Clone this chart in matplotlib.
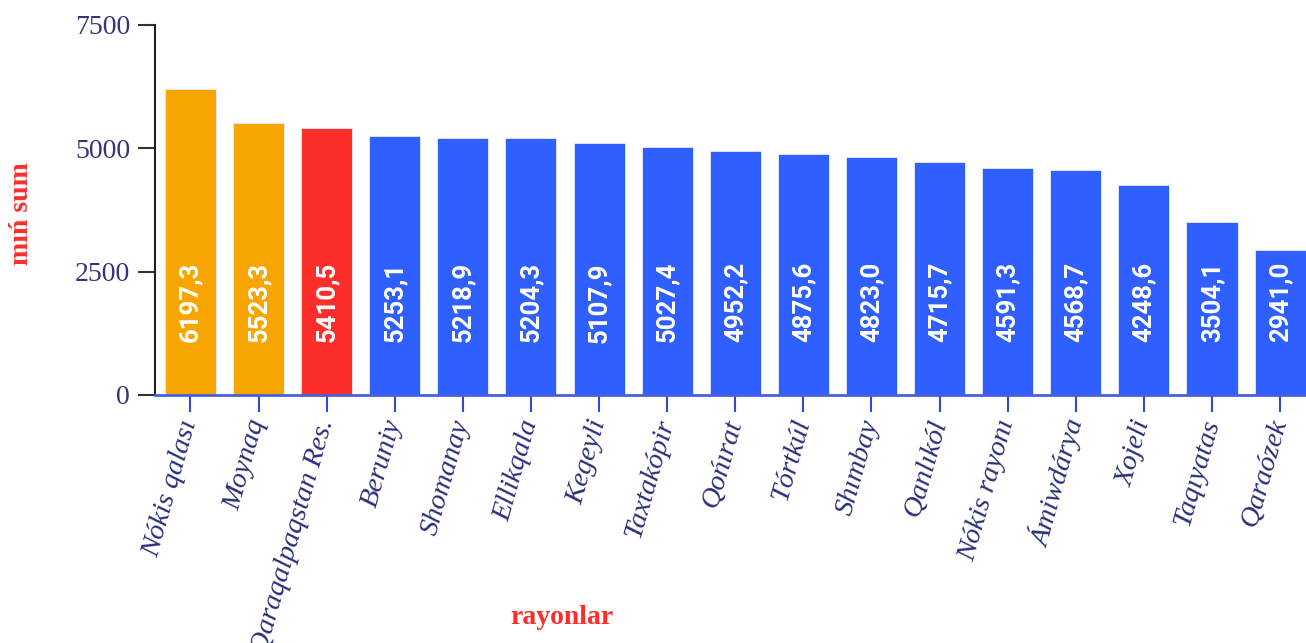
import matplotlib.pyplot as plt

rayonlar = ['Nókis qalası', 'Moynaq', 'Qaraqalpaqstan Res.', 'Beruniy', 'Shomanay',
            'Ellikqala', 'Kegeyli', 'Taxtakópir', 'Qońırat', 'Tórtkúl', 'Shımbay',
            'Qanlıkól', 'Nókis rayonı', 'Ámiwdárya', 'Xojeli', 'Taqıyatas', 'Qaraózek']
qiymat = [6197.3, 5523.3, 5410.5, 5253.1, 5218.9, 5204.3, 5107.9, 5027.4, 4952.2,
          4875.6, 4823.0, 4715.7, 4591.3, 4568.7, 4248.6, 3504.1, 2941.0]
yticks = [0, 2500, 5000, 7500]

orange = '#f7a500'
red = '#fc2e2a'
blue = '#2f5ffe'
colors = [orange, orange, red] + [blue] * (len(rayonlar) - 3)

fig = plt.figure(figsize=(13.06, 6.43), dpi=100)
ax = fig.add_axes([155 / 1306, 1 - 395 / 643, 1 - 155 / 1306, 370 / 643])

x = range(len(rayonlar))
ax.bar(x, qiymat, width=0.75, color=colors, edgecolor='#e8ecff', linewidth=0.6, zorder=2)

# qiymat yozuvlari ustun ichida
for i, v in enumerate(qiymat):
    ax.text(i, 1880, f'{v:.1f}'.replace('.', ','), rotation=90, ha='center', va='center',
            color='white', fontsize=18.5, fontweight='bold', family='Roboto', zorder=3)

ax.set_xlim(-0.52, 16.38)
ax.set_ylim(0, 7500)

ax.set_yticks(yticks)
ax.set_yticklabels([str(t) for t in yticks], family='Liberation Serif', fontsize=20,
                   color='#34357a')
ax.tick_params(axis='y', length=12, width=1.5, color='#333333', pad=6)

ax.set_xticks(list(x))
ax.set_xticklabels(rayonlar, rotation=74, ha='right', va='center', rotation_mode='anchor',
                   family='Liberation Serif', style='italic', fontsize=20.5, color='#2a2e78')
ax.tick_params(axis='x', length=12, width=1.5, color='#3748d0', pad=6)

ax.spines['top'].set_visible(False)
ax.spines['right'].set_visible(False)
ax.spines['left'].set_color('#222222')
ax.spines['left'].set_linewidth(1.5)
ax.spines['bottom'].set_color('#4a5ee0')
ax.spines['bottom'].set_linewidth(2)

fig.text(22 / 1306, 1 - 214 / 643, 'mıń sum', rotation=90, ha='center', va='center',
         color='#fc2e2a', fontsize=20, fontweight='bold', family='Liberation Serif')
fig.text(562 / 1306, 1 - 617 / 643, 'rayonlar', ha='center', va='center',
         color='#fc2e2a', fontsize=20, fontweight='bold', family='Liberation Serif')

fig.savefig('out.png', dpi=100)
